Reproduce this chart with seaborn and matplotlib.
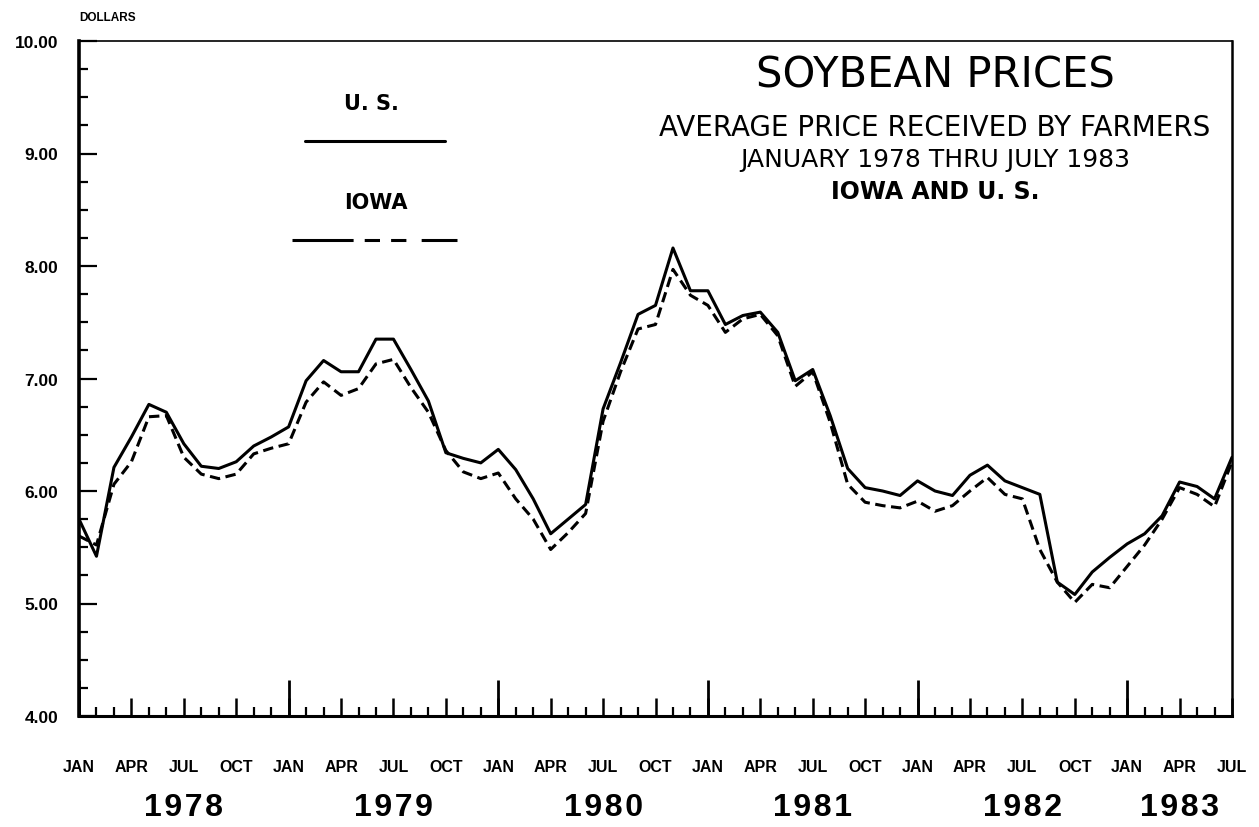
import numpy as np
import pandas as pd
import matplotlib
matplotlib.use("Agg")
import matplotlib.pyplot as plt
from matplotlib.lines import Line2D
from matplotlib.ticker import MultipleLocator, FixedLocator, FixedFormatter, FormatStrFormatter
import seaborn as sns

# ---------------- data ----------------
month_names = ["JAN", "APR", "JUL", "OCT"]
years = ["1978", "1979", "1980", "1981", "1982", "1983"]

us_prices = [
    5.75, 5.42, 6.21, 6.48, 6.77, 6.70, 6.42, 6.22, 6.20, 6.26, 6.40, 6.48,   # 1978
    6.57, 6.98, 7.16, 7.06, 7.06, 7.35, 7.35, 7.08, 6.80, 6.34, 6.29, 6.25,   # 1979
    6.37, 6.19, 5.93, 5.62, 5.75, 5.88, 6.73, 7.14, 7.57, 7.65, 8.16, 7.78,   # 1980
    7.78, 7.48, 7.56, 7.59, 7.41, 6.98, 7.08, 6.67, 6.20, 6.03, 6.00, 5.96,   # 1981
    6.09, 6.00, 5.96, 6.14, 6.23, 6.09, 6.03, 5.97, 5.19, 5.08, 5.28, 5.41,   # 1982
    5.53, 5.62, 5.78, 6.08, 6.04, 5.93, 6.30,                                 # 1983
]
iowa_prices = [
    5.60, 5.52, 6.06, 6.26, 6.66, 6.67, 6.30, 6.15, 6.11, 6.15, 6.33, 6.38,
    6.42, 6.79, 6.97, 6.85, 6.91, 7.13, 7.17, 6.92, 6.70, 6.36, 6.17, 6.11,
    6.16, 5.93, 5.75, 5.48, 5.63, 5.80, 6.62, 7.06, 7.44, 7.48, 7.97, 7.74,
    7.65, 7.41, 7.53, 7.57, 7.38, 6.93, 7.06, 6.61, 6.06, 5.90, 5.87, 5.85,
    5.91, 5.82, 5.87, 6.00, 6.12, 5.97, 5.93, 5.48, 5.19, 5.01, 5.17, 5.14,
    5.33, 5.52, 5.75, 6.03, 5.97, 5.86, 6.26,
]

n = len(us_prices)
month_idx = np.arange(n)
df = pd.concat([
    pd.DataFrame({"month": month_idx, "price": us_prices, "series": "U. S."}),
    pd.DataFrame({"month": month_idx, "price": iowa_prices, "series": "IOWA"}),
])

# ---------------- style ----------------
sns.set_style("ticks")
plt.rcParams["font.family"] = ["DejaVu Sans"]
plt.rcParams["text.color"] = "black"
plt.rcParams["xtick.color"] = "black"
plt.rcParams["ytick.color"] = "black"
plt.rcParams["lines.scale_dashes"] = False
lab_font = ["Liberation Sans", "DejaVu Sans"]

W, H = 1259, 828
fig = plt.figure(figsize=(W / 100, H / 100), dpi=100)
L, R, T, B = 79, 1232, 42, 717
ax = fig.add_axes([L / W, 1 - B / H, (R - L) / W, (B - T) / H])

sns.lineplot(data=df, x="month", y="price", style="series",
             dashes={"U. S.": "", "IOWA": (7.5, 4.0)},
             color="black", linewidth=2.2, legend=False, ax=ax, sort=False)

ax.set_xlim(0, n - 1)
ax.set_ylim(4, 10)
ax.set_xlabel("")
ax.set_ylabel("")

for side in ["left", "right", "top", "bottom"]:
    ax.spines[side].set_visible(True)
    ax.spines[side].set_color("black")
ax.spines["left"].set_linewidth(2.6)
ax.spines["bottom"].set_linewidth(2.2)
ax.spines["right"].set_linewidth(1.8)
ax.spines["top"].set_linewidth(1.2)

# y ticks
ax.yaxis.set_major_locator(MultipleLocator(1))
ax.yaxis.set_minor_locator(MultipleLocator(0.25))
ax.yaxis.set_major_formatter(FormatStrFormatter("%.2f"))
ax.tick_params(axis="y", which="major", direction="in", length=13, width=1.6, pad=15)
ax.tick_params(axis="y", which="minor", direction="in", length=6.5, width=1.6)
for lab in ax.get_yticklabels():
    lab.set_family(lab_font)
    lab.set_fontweight("bold")
    lab.set_fontsize(12.5)

# x ticks: quarters labelled, months minor
q_pos = list(range(0, n, 3))
q_lab = [month_names[(p % 12) // 3] for p in q_pos]
ax.xaxis.set_major_locator(FixedLocator(q_pos))
ax.xaxis.set_major_formatter(FixedFormatter(q_lab))
ax.xaxis.set_minor_locator(MultipleLocator(1))
ax.tick_params(axis="x", which="major", direction="in", length=13, width=1.8, pad=31)
ax.tick_params(axis="x", which="minor", direction="in", length=6.5, width=1.6)
for lab in ax.get_xticklabels():
    lab.set_family(lab_font)
    lab.set_fontweight("bold")
    lab.set_fontsize(11.5)

# longer January ticks
sec = ax.secondary_xaxis("bottom")
sec.set_xticks(list(range(0, n, 12)))
sec.set_xticklabels([])
sec.tick_params(direction="in", length=26, width=2.0)
sec.spines["bottom"].set_visible(False)

# year labels
for k, yr in enumerate(years):
    s = k * 12
    e = min(s + 12, n - 1)
    ax.text((s + e) / 2, -0.135, "\u200a".join(yr), transform=ax.get_xaxis_transform(),
            ha="center", va="center", fontsize=23, fontweight="bold", family=lab_font)

# units label
fig.text(79 / W, 1 - 18 / H, "DOLLARS", ha="left", va="center",
         fontsize=8.5, fontweight="bold", family=lab_font)

# titles
cx = 935 / W
fig.text(cx, 1 - 76 / H, "SOYBEAN PRICES", ha="center", va="center", fontsize=30)
fig.text(cx, 1 - 128 / H, "AVERAGE PRICE RECEIVED BY FARMERS", ha="center", va="center", fontsize=20)
fig.text(cx, 1 - 160 / H, "JANUARY 1978 THRU JULY 1983", ha="center", va="center", fontsize=18)
fig.text(cx, 1 - 192 / H, "IOWA AND U. S.", ha="center", va="center", fontsize=17, fontweight="bold")

# legend
fig.text(371 / W, 1 - 104 / H, "U. S.", ha="center", va="center", fontsize=15, fontweight="bold")
fig.add_artist(Line2D([305 / W, 445 / W], [1 - 142 / H] * 2, transform=fig.transFigure,
                      color="black", linewidth=2.2))
fig.text(376 / W, 1 - 203 / H, "IOWA", ha="center", va="center", fontsize=15, fontweight="bold")
fig.add_artist(Line2D([292 / W, 457 / W], [1 - 241 / H] * 2, transform=fig.transFigure,
                      color="black", linewidth=2.2,
                      linestyle=(0, (44, 8, 11, 8, 11, 11, 30))))

fig.savefig("out.png", dpi=100, facecolor="white")
